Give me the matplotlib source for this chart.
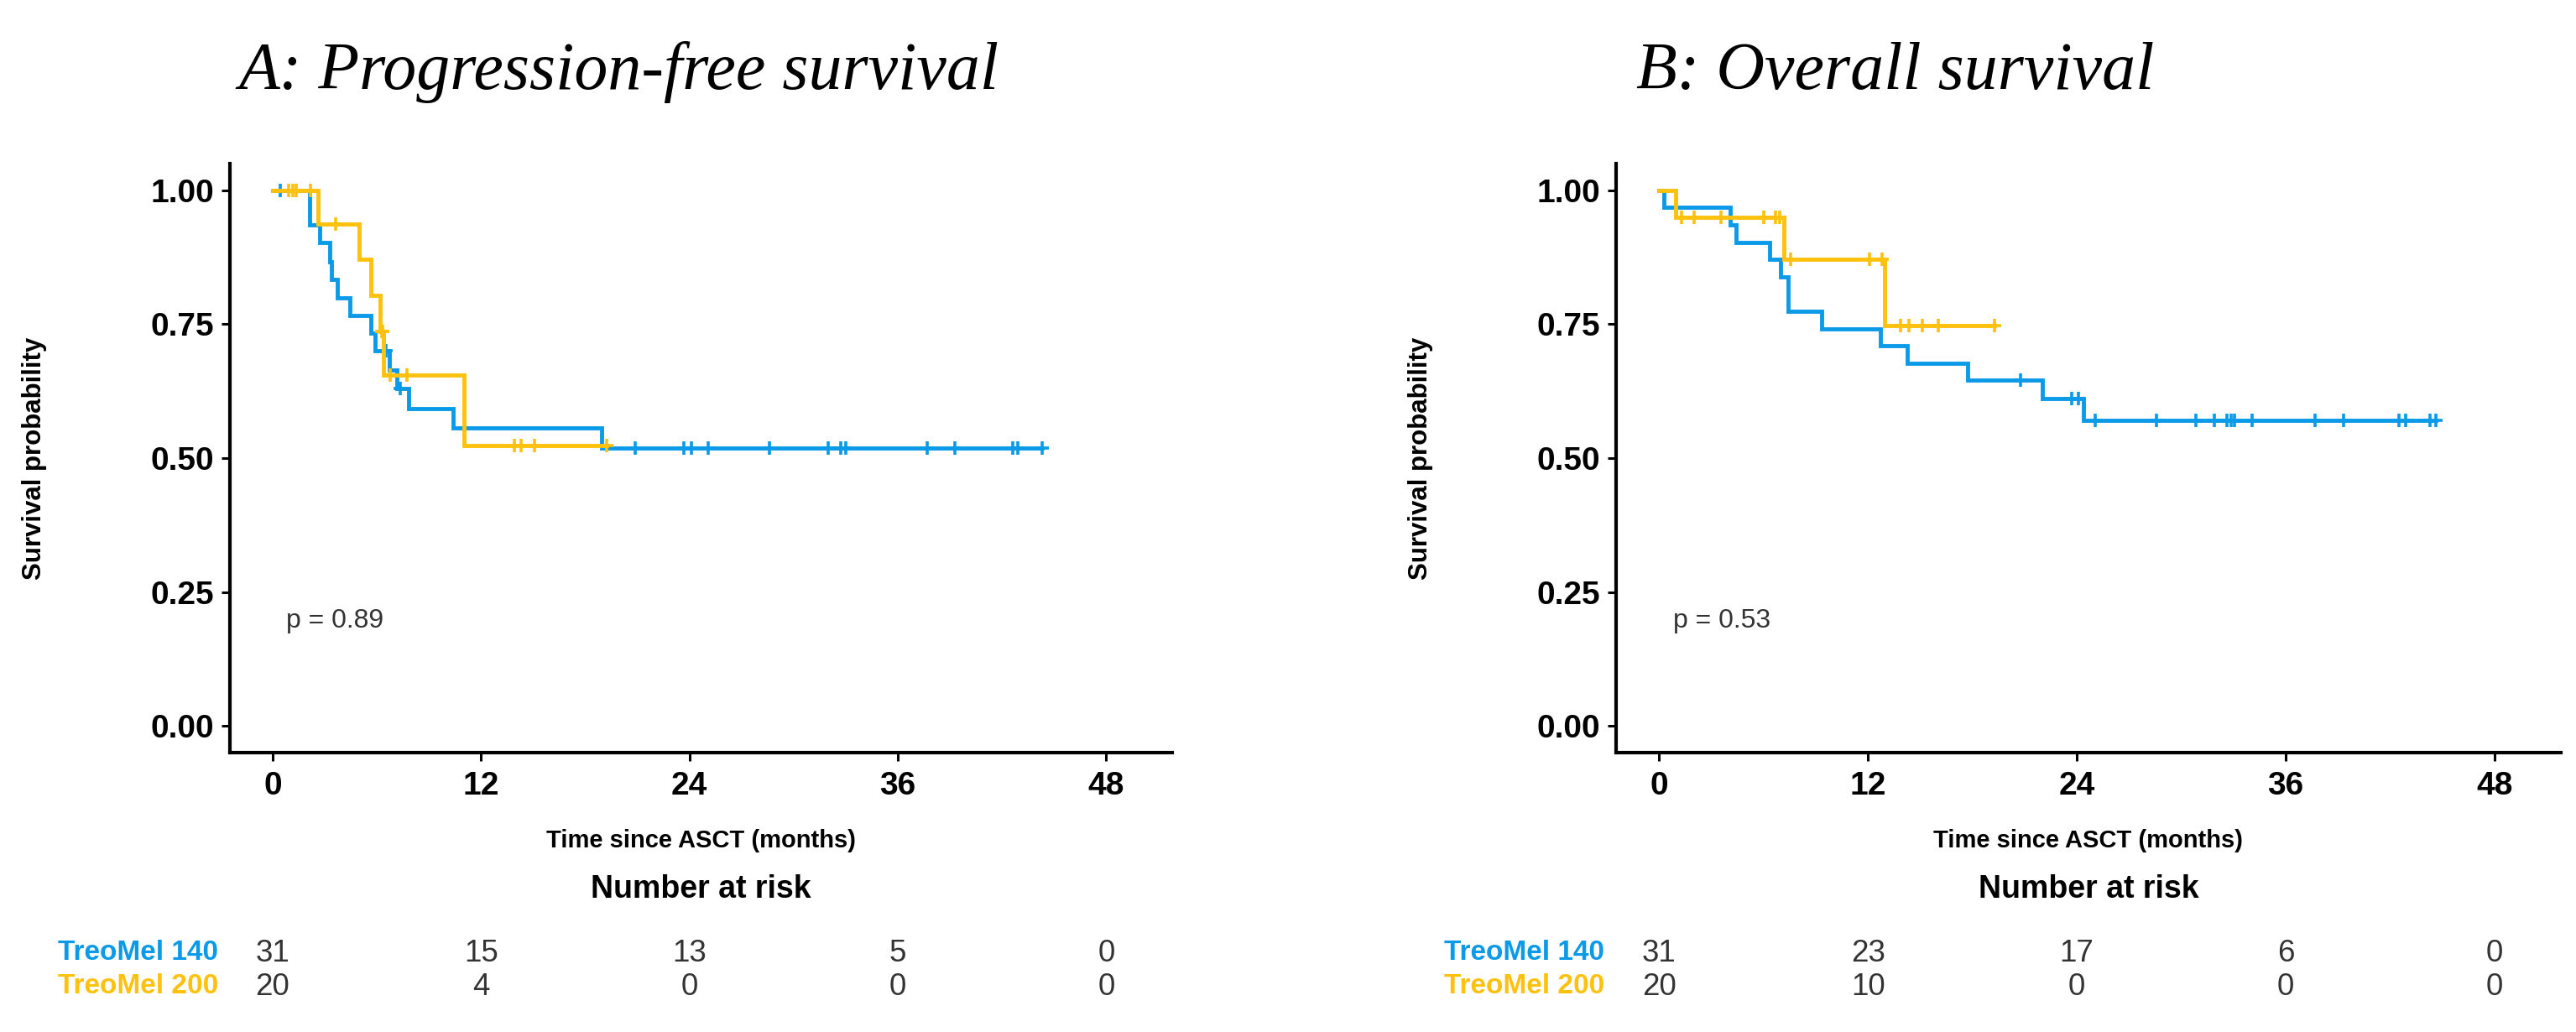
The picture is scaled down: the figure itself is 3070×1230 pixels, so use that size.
import numpy as np
import matplotlib.pyplot as plt
from matplotlib.transforms import blended_transform_factory

plt.rcParams['font.family'] = ['Liberation Sans', 'DejaVu Sans']

W, H = 3070, 1230

BLUE = '#0A9AE8'
YELLOW = '#FDC10E'

month_ticks = [0, 12, 24, 36, 48]
prob_ticks = [0.0, 0.25, 0.50, 0.75, 1.00]
prob_labels = ['0.00', '0.25', '0.50', '0.75', '1.00']
group_names = ['TreoMel 140', 'TreoMel 200']

# A: progression-free survival, step times / survival after each drop
pfs_140_times = [2.14, 2.71, 3.27, 3.38, 3.71, 4.43, 5.64, 5.88, 6.72, 7.17, 7.81, 10.39, 18.93]
pfs_140_surv = [0.935, 0.902, 0.867, 0.833, 0.800, 0.767, 0.733, 0.700, 0.665, 0.630, 0.593, 0.556, 0.519]
pfs_140_censor = [0.43, 6.52, 7.33, 20.9, 23.7, 24.1, 25.1, 28.6, 32.0, 32.7, 33.0, 37.7, 39.3, 42.6, 42.9, 44.3]

pfs_200_times = [2.63, 4.99, 5.64, 6.20, 6.40, 11.0]
pfs_200_surv = [0.9375, 0.871, 0.804, 0.737, 0.655, 0.524]
pfs_200_censor = [0.92, 1.18, 1.37, 2.17, 3.62, 6.28, 6.33, 6.77, 7.73, 13.9, 14.3, 15.1, 19.25]

# B: overall survival
os_140_times = [0.28, 4.1, 4.43, 6.36, 7.0, 7.41, 9.34, 12.73, 14.26, 17.72, 22.0, 24.4]
os_140_surv = [0.968, 0.935, 0.903, 0.871, 0.839, 0.774, 0.742, 0.710, 0.677, 0.645, 0.611, 0.570]
os_140_censor = [20.78, 23.7, 24.1, 25.06, 28.56, 30.86, 31.92, 32.63, 32.88, 33.05, 34.05,
                 37.68, 39.3, 42.5, 42.87, 44.3, 44.6]

os_200_times = [0.95, 7.17, 12.97]
os_200_surv = [0.950, 0.871, 0.747]
os_200_censor = [1.3, 2.0, 3.56, 6.0, 6.7, 6.96, 7.57, 12.1, 12.8, 13.86, 14.34, 15.11, 16.03, 19.25]

risk_pfs = [[31, 15, 13, 5, 0], [20, 4, 0, 0, 0]]
risk_os = [[31, 23, 17, 6, 0], [20, 10, 0, 0, 0]]


def fx(px):
    return px / W


def fy(py):
    return 1 - py / H


def draw_curve(ax, times, surv, censor, color):
    end = max(censor[-1], times[-1])
    xs = [0] + times + [end]
    ys = [1.0] + surv + [surv[-1]]
    ax.step(xs, ys, where='post', color=color, lw=3.5, solid_joinstyle='miter')
    levels = np.array([1.0] + surv)
    idx = np.searchsorted(np.array(times), np.array(censor), side='right')
    ax.plot(censor, levels[idx], ls='none', marker='+', ms=11, mew=2.6, color=color)


def draw_panel(left_px, right_px, curves, risk, pval, title, title_x):
    ax = fig.add_axes([fx(left_px), fy(897), fx(right_px - left_px), fy(195) - fy(897)])
    for times, surv, censor, color in curves:
        draw_curve(ax, times, surv, censor, color)
    ax.set_xlim(-2.46, 51.8)
    ax.set_ylim(-0.05, 1.05)
    ax.set_xticks(month_ticks)
    ax.set_yticks(prob_ticks)
    ax.set_yticklabels(prob_labels)
    for s in ['top', 'right']:
        ax.spines[s].set_visible(False)
    for s in ['left', 'bottom']:
        ax.spines[s].set_linewidth(3.0)
        ax.spines[s].set_color('black')
    ax.tick_params(axis='both', length=7.5, width=2.2, color='black',
                   labelsize=28, labelcolor='black')
    ax.tick_params(axis='y', pad=6)
    ax.tick_params(axis='x', pad=8)
    for lab in ax.get_xticklabels() + ax.get_yticklabels():
        lab.set_fontweight('bold')
    ax.text(0.8, 0.196, f'p = {pval}', ha='left', va='center', fontsize=23, color='#333333')

    mid = (left_px + right_px) / 2
    fig.text(fx(mid), fy(1002), 'Time since ASCT (months)', ha='center', va='center',
             fontsize=21, fontweight='bold')
    fig.text(fx(left_px - 233), fy(546), 'Survival probability', ha='center', va='center',
             rotation=90, fontsize=22.5, fontweight='bold')
    fig.text(fx(mid), fy(1060), 'Number at risk', ha='center', va='center',
             fontsize=27, fontweight='bold')
    fig.text(fx(title_x), fy(106), title, ha='left', va='baseline', fontsize=57.5,
             style='italic', family=['Liberation Serif', 'DejaVu Serif'])

    tr = blended_transform_factory(ax.transData, fig.transFigure)
    row_y = [1136, 1176]
    for row, name, color, y in zip(risk, group_names, [BLUE, YELLOW], row_y):
        fig.text(fx(left_px - 14), fy(y), name, ha='right', va='center', fontsize=24,
                 fontweight='bold', color=color)
        for t, n in zip(month_ticks, row):
            ax.text(t, fy(y), str(n), transform=tr, ha='center', va='center',
                    fontsize=26.5, color='#333333', clip_on=False)
    return ax


fig = plt.figure(figsize=(W / 100, H / 100), dpi=100)

draw_panel(274, 1397,
           [(pfs_140_times, pfs_140_surv, pfs_140_censor, BLUE),
            (pfs_200_times, pfs_200_surv, pfs_200_censor, YELLOW)],
           risk_pfs, '0.89', 'A: Progression-free survival', 284)

draw_panel(1926, 3052,
           [(os_140_times, os_140_surv, os_140_censor, BLUE),
            (os_200_times, os_200_surv, os_200_censor, YELLOW)],
           risk_os, '0.53', 'B: Overall survival', 1950)

fig.savefig('out.png', dpi=100, facecolor='white')
